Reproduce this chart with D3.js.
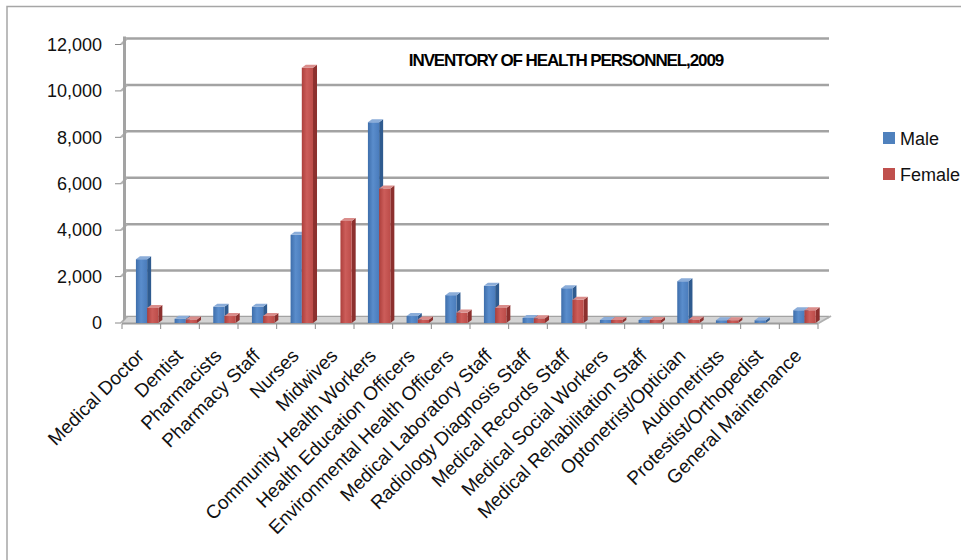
<!DOCTYPE html>
<html>
<head>
<meta charset="utf-8">
<script src="https://cdn.jsdelivr.net/npm/d3@7"></script>
<style>
  html, body { margin: 0; padding: 0; background: #fff; }
  svg { display: block; font-family: "Liberation Sans", Arial, sans-serif; }
</style>
</head>
<body>
<svg id="chart" width="961" height="560"></svg>
<script>
const categories = [
  "Medical Doctor", "Dentist", "Pharmacists", "Pharmacy Staff", "Nurses", "Midwives",
  "Community Health Workers", "Health Education Officers", "Environmental Health Officers",
  "Medical Laboratory Staff", "Radiology Diagnosis Staff", "Medical Records Staff",
  "Medical Social Workers", "Medical Rehabilitation Staff", "Optonetrist/Optician",
  "Audionetrists", "Protestist/Orthopedist", "General Maintenance"
];
const seriesNames = ["Male", "Female"];
const maleValues   = [2750, 180, 700, 700, 3800, 0, 8650, 300, 1200, 1600, 220, 1500, 130, 130, 1800, 120, 120, 550];
const femaleValues = [650, 150, 300, 300, 11000, 4400, 5800, 150, 450, 650, 200, 1000, 130, 130, 150, 120, 0, 550];
const yTicks = [0, 2000, 4000, 6000, 8000, 10000, 12000];
const titleText = "INVENTORY OF HEALTH PERSONNEL,2009";

const svg = d3.select("#chart");

// Scales
const x0 = d3.scaleBand().domain(categories).range([122, 818]).padding(0);
const bw = x0.bandwidth();
const x1 = d3.scaleBand().domain(seriesNames).range([bw * 0.36, bw * 0.94]).padding(0);
const y = d3.scaleLinear().domain([0, 12000]).range([323, 44.5]);

const depthX = 6, depthY = 6;      // wall depth offset
const bdx = 4, bdy = 3;            // bar depth offset

const colors = {
  Male:   { front: ["#3e6eab", "#5a8dcc", "#4a7cbc"], side: "#2f5b8f", top: "#8badd9" },
  Female: { front: ["#ad3f3c", "#cc5d5a", "#bc4c49"], side: "#8c302e", top: "#da8d8b" }
};

// gradients
const defs = svg.append("defs");
seriesNames.forEach(s => {
  const g = defs.append("linearGradient").attr("id", "grad" + s)
    .attr("x1", "0").attr("x2", "1").attr("y1", "0").attr("y2", "0");
  g.append("stop").attr("offset", "0%").attr("stop-color", colors[s].front[0]);
  g.append("stop").attr("offset", "45%").attr("stop-color", colors[s].front[1]);
  g.append("stop").attr("offset", "100%").attr("stop-color", colors[s].front[2]);
});

// Border
svg.append("path").attr("d", "M7,560 V6.5 H961")
  .attr("fill", "none").attr("stroke", "#a6a6a6").attr("stroke-width", 1.5);

// Back wall gridlines
const xLeftBack = 125, xRightBack = 829;
svg.append("g").selectAll("line").data(yTicks).join("line")
  .attr("x1", xLeftBack).attr("x2", xRightBack)
  .attr("y1", d => y(d) - depthY).attr("y2", d => y(d) - depthY)
  .attr("stroke", "#a3a3a3").attr("stroke-width", 2.5);

// Side wall gridline stubs
svg.append("g").selectAll("line").data(yTicks).join("line")
  .attr("x1", 121).attr("x2", 121 + depthX)
  .attr("y1", d => y(d)).attr("y2", d => y(d) - depthY)
  .attr("stroke", "#b3b3b3").attr("stroke-width", 2.2);

// Left wall vertical
svg.append("line")
  .attr("x1", 124.5).attr("x2", 124.5)
  .attr("y1", y(12000) - depthY - 2).attr("y2", y(0) - 1)
  .attr("stroke", "#a3a3a3").attr("stroke-width", 3);

// Floor
const fx0 = x0.range()[0], fx1 = x0.range()[1];
svg.append("path")
  .attr("d", `M${fx0},${y(0)} L${fx0 + depthX},${y(0) - depthY} L${xRightBack},${y(0) - depthY} L${fx1},${y(0)} Z`)
  .attr("fill", "#d4d4d4").attr("stroke", "none");
svg.append("line").attr("x1", fx0).attr("x2", fx1).attr("y1", y(0) + 0.5).attr("y2", y(0) + 0.5)
  .attr("stroke", "#9c9c9c").attr("stroke-width", 2);
svg.append("line").attr("x1", fx1).attr("x2", xRightBack + 2).attr("y1", y(0) + 0.5).attr("y2", y(0) - depthY - 1)
  .attr("stroke", "#b0b0b0").attr("stroke-width", 2);

// Bars
const data = categories.map((c, i) => ({ cat: c, values: [
  { s: "Male", v: maleValues[i] }, { s: "Female", v: femaleValues[i] } ] }));

const groups = svg.append("g").selectAll("g").data(data).join("g")
  .attr("transform", d => `translate(${x0(d.cat)},0)`);

groups.each(function(d) {
  const g = d3.select(this);
  d.values.forEach(b => {
    if (b.v <= 0) return;
    const x = x1(b.s), w = x1.bandwidth();
    const yt = y(b.v), yb = y(0);
    // side
    g.append("path")
      .attr("d", `M${x + w},${yt} L${x + w + bdx},${yt - bdy} L${x + w + bdx},${yb - bdy} L${x + w},${yb} Z`)
      .attr("fill", colors[b.s].side);
    // front
    g.append("rect").attr("x", x).attr("y", yt).attr("width", w).attr("height", Math.max(0, yb - yt))
      .attr("fill", `url(#grad${b.s})`);
    // top
    g.append("path")
      .attr("d", `M${x},${yt} L${x + bdx},${yt - bdy} L${x + w + bdx},${yt - bdy} L${x + w},${yt} Z`)
      .attr("fill", colors[b.s].top);
  });
});

// Category tick marks
const boundaries = categories.map(c => x0(c)).concat([fx1]);
svg.append("g").selectAll("line").data(boundaries).join("line")
  .attr("x1", d => d).attr("x2", d => d)
  .attr("y1", y(0) + 1).attr("y2", y(0) + 6)
  .attr("stroke", "#8a8a8a").attr("stroke-width", 1);

// Y axis ticks and labels
const yAxis = svg.append("g");
yAxis.selectAll("line").data(yTicks).join("line")
  .attr("x1", 115).attr("x2", 121).attr("y1", d => y(d)).attr("y2", d => y(d))
  .attr("stroke", "#8a8a8a").attr("stroke-width", 1);
yAxis.selectAll("text").data(yTicks).join("text")
  .attr("x", 102).attr("y", d => y(d)).attr("dy", "0.35em")
  .attr("text-anchor", "end").attr("font-size", 18).attr("fill", "#111")
  .text(d => d3.format(",")(d));

// Category labels
svg.append("g").selectAll("text").data(categories).join("text")
  .attr("transform", c => `translate(${x0(c) + bw / 2 + 4},${357}) rotate(-45)`)
  .attr("text-anchor", "end").attr("font-size", 19).attr("fill", "#111")
  .text(c => c);

// Title
svg.append("text").attr("x", 566).attr("y", 66).attr("text-anchor", "middle")
  .attr("font-size", 17).attr("font-weight", "bold").attr("letter-spacing", "-1.1px")
  .attr("fill", "#000").text(titleText);

// Legend
const legend = svg.append("g").selectAll("g").data(seriesNames).join("g")
  .attr("transform", (d, i) => `translate(883,${132 + i * 36})`);
legend.append("rect").attr("width", 12).attr("height", 12)
  .attr("fill", d => d === "Male" ? "#4f81bd" : "#c0504d");
legend.append("text").attr("x", 17).attr("y", 13).attr("font-size", 18).attr("fill", "#111")
  .text(d => d);
</script>
</body>
</html>
